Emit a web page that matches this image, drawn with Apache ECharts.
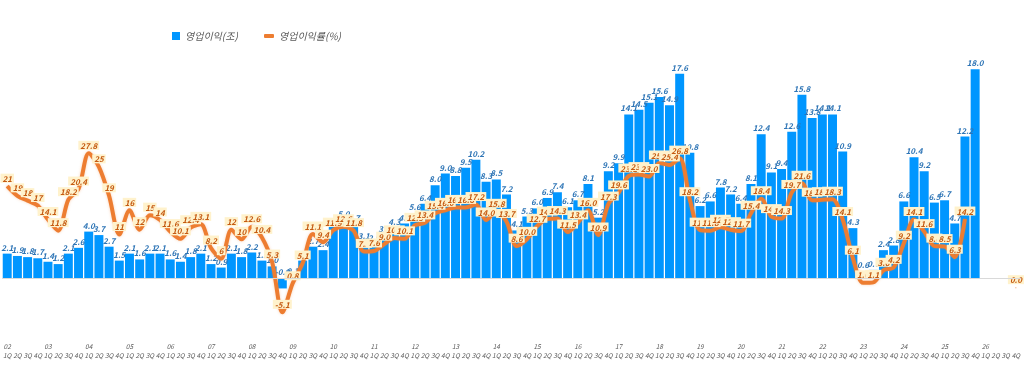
<!DOCTYPE html>
<html>
<head>
<meta charset="utf-8">
<script src="https://cdn.jsdelivr.net/npm/echarts@6/dist/echarts.min.js"></script>
<style>
html,body{margin:0;padding:0;background:#fff;}
#chart{width:1024px;height:371px;}
</style>
</head>
<body>
<div id="chart"></div>
<script>
const years = ['02','03','04','05','06','07','08','09','10','11','12','13','14','15','16','17','18','19','20','21','22','23','24','25','26'];
const quarters = ['1Q','2Q','3Q','4Q'];
const seriesNames = ['영업이익(조)', '영업이익률(%)'];

// 영업이익 (조원), 02 1Q ~ 26 4Q
const opProfit = [
  2.1, 1.9, 1.8, 1.7,
  1.4, 1.2, 2.1, 2.6,
  4.0, 3.7, 2.7, 1.5,
  2.1, 1.6, 2.1, 2.1,
  1.6, 1.4, 1.8, 2.1,
  1.2, 0.9, 2.1, 1.8,
  2.2, 1.5, 1.0, -0.9,
  0.1, 1.5, 2.7, 2.4,
  4.4, 5.0, 4.7, 3.1,
  2.9, 3.7, 4.3, 4.7,
  5.6, 6.4, 8.0, 9.0,
  8.8, 9.5, 10.2, 8.3,
  8.5, 7.2, 4.1, 5.3,
  6.0, 6.9, 7.4, 6.1,
  6.7, 8.1, 5.2, 9.2,
  9.9, 14.1, 14.5, 15.1,
  15.6, 14.9, 17.6, 10.8,
  6.2, 6.6, 7.8, 7.2,
  6.4, 8.1, 12.4, 9.1,
  9.4, 12.6, 15.8, 13.8,
  14.1, 14.1, 10.9, 4.3,
  0.6, 0.7, 2.4, 2.8,
  6.6, 10.4, 9.2, 6.5,
  6.7, 4.7, 12.2, 18.0,
  null, null, null, null
];

// 영업이익률 (%)
const opMargin = [
  21, 19, 18, 17,
  14.1, 11.8, 18.2, 20.4,
  27.8, 25, 19, 11,
  16, 12, 15, 14,
  11.6, 10.1, 12.4, 13.1,
  8.2, 6, 12, 10,
  12.6, 10.4, 5.3, -5.1,
  0.8, 5.1, 11.1, 9.4,
  11.9, 12.6, 11.8, 7.5,
  7.6, 9.0, 10.3, 10.1,
  12.9, 13.4, 15.4, 16.0,
  16.6, 16.6, 17.2, 14.0,
  15.8, 13.7, 8.6, 10.0,
  12.7, 14.2, 14.3, 11.5,
  13.4, 16.0, 10.9, 17.3,
  19.6, 23.1, 23.4, 23.0,
  25.8, 25.4, 26.8, 18.2,
  11.9, 11.8, 12.5, 12.0,
  11.7, 15.4, 18.4, 14.7,
  14.3, 19.7, 21.6, 18.1,
  18.2, 18.3, 14.1, 6.1,
  1.0, 1.1, 3.6, 4.2,
  9.2, 14.1, 11.6, 8.6,
  8.5, 6.3, 14.2, null,
  null, null, null, 0.0
];

const categories = [];
years.forEach(y => quarters.forEach(q => categories.push(y + ' ' + q)));

const FONT = '"Noto Sans CJK KR", "Noto Sans", sans-serif';
const chart = echarts.init(document.getElementById('chart'), null, {renderer: 'canvas'});

chart.setOption({
  animation: false,
  backgroundColor: '#ffffff',
  legend: [
    {
      data: [{name: seriesNames[0], icon: 'rect'}],
      left: 167, top: 26,
      itemWidth: 8, itemHeight: 8, itemGap: 4,
      textStyle: {color: '#595959', fontSize: 10, fontStyle: 'italic', fontFamily: FONT}
    },
    {
      data: [{name: seriesNames[1], icon: 'roundRect'}],
      left: 259, top: 26,
      itemWidth: 10, itemHeight: 4, itemGap: 4,
      textStyle: {color: '#595959', fontSize: 10, fontStyle: 'italic', fontFamily: FONT}
    }
  ],
  grid: {left: 2, right: 3, top: 46, bottom: 35, containLabel: false},
  xAxis: {
    type: 'category',
    data: categories,
    axisLine: {show: false, onZero: false},
    axisTick: {show: false},
    axisLabel: {
      interval: 0,
      margin: 6,
      fontSize: 6.5,
      lineHeight: 9,
      fontStyle: 'italic',
      color: '#595959',
      fontFamily: FONT,
      formatter: function (v) {
        const p = v.split(' ');
        return p[1] === '1Q' ? p[0] + '\n' + p[1] : '\n' + p[1];
      }
    }
  },
  yAxis: [
    {type: 'value', min: -5, max: 20, show: false, splitLine: {show: false}},
    {type: 'value', min: -10, max: 50, show: false, splitLine: {show: false}}
  ],
  series: [
    {
      name: seriesNames[0],
      type: 'bar',
      data: opProfit,
      yAxisIndex: 0,
      barCategoryGap: '12%',
      itemStyle: {color: '#0096FF'},
      label: {
        show: true,
        position: 'top',
        distance: 2,
        color: '#2E75B6',
        fontSize: 8,
        fontStyle: 'italic',
        fontWeight: 'bold',
        fontFamily: FONT,
        formatter: p => (p.value == null ? '' : Number(p.value).toFixed(1))
      },
      markLine: {
        silent: true,
        symbol: 'none',
        label: {show: false},
        lineStyle: {color: '#d9d9d9', width: 1, type: 'solid'},
        data: [{yAxis: 0}]
      },
      z: 2
    },
    {
      name: seriesNames[1],
      type: 'line',
      data: opMargin,
      yAxisIndex: 1,
      smooth: 0.3,
      connectNulls: false,
      symbol: 'circle',
      symbolSize: 1,
      showSymbol: true,
      itemStyle: {color: '#ED7D31'},
      lineStyle: {color: '#ED7D31', width: 4, shadowColor: 'rgba(237,125,49,0.35)', shadowBlur: 3},
      label: {
        show: true,
        position: 'top',
        distance: 3,
        color: '#C55A11',
        backgroundColor: '#FFF2CC',
        padding: [1, 2, 0, 2],
        fontSize: 8,
        fontStyle: 'italic',
        fontWeight: 'bold',
        fontFamily: FONT,
        formatter: p => {
          if (p.value == null) return '';
          return p.dataIndex >= 24 ? Number(p.value).toFixed(1) : String(p.value);
        }
      },
      z: 3
    }
  ]
});
</script>
</body>
</html>
